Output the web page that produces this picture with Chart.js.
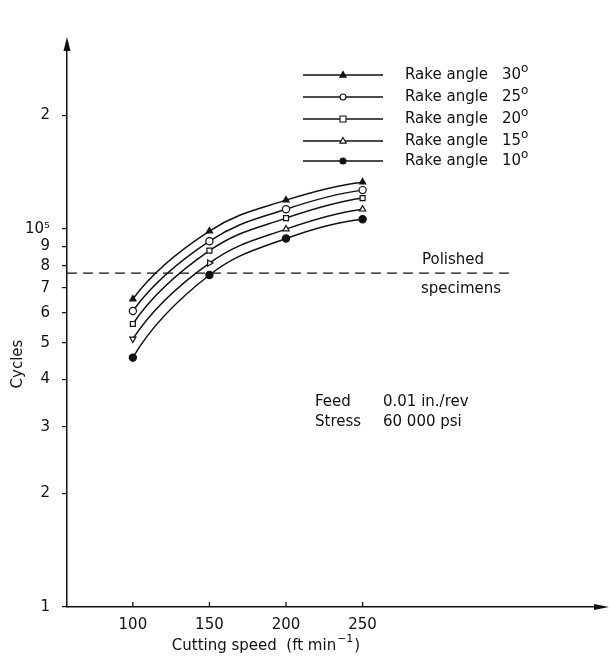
<!DOCTYPE html>
<html>
<head>
<meta charset="utf-8">
<script src="https://cdn.jsdelivr.net/npm/chart.js@4/dist/chart.umd.min.js"></script>
<style>
  html, body { margin: 0; padding: 0; background: #fff; }
</style>
</head>
<body>
<canvas id="chart" width="610" height="659"></canvas>
<script>
// cutting speed (ft/min) and fatigue life (cycles)
const speeds = [100, 150, 200, 250];
const rake30 = [65300, 98800, 119300, 133100];
const rake25 = [60700, 92900, 112900, 126800];
const rake20 = [56100, 87700, 106900, 120800];
const rake15 = [51200, 81300, 100000, 112900];
const rake10 = [45700, 75600, 94400, 106200];
const rakeNames = ['30', '25', '20', '15', '10'];

const polishedLevel = 76500;
const polishedSpan = [57, 346];

const xTicks = [100, 150, 200, 250];
const yTicks = [1e4, 2e4, 3e4, 4e4, 5e4, 6e4, 7e4, 8e4, 9e4, 1e5, 2e5];
const yTickLabels = ['1', '2', '3', '4', '5', '6', '7', '8', '9', '10\u2075', '2'];

const ink = '#111';
const FONT = "'DejaVu Sans', sans-serif";
Chart.defaults.font.family = FONT;
Chart.defaults.font.size = 15;
Chart.defaults.color = ink;

const styles = [
  { pointStyle: 'triangle', fill: ink, rot: [0, 0, 0, 0] },
  { pointStyle: 'circle', fill: '#fff', rot: [0, 0, 0, 0] },
  { pointStyle: 'rect', fill: '#fff', rot: [0, 0, 0, 0] },
  { pointStyle: 'triangle', fill: '#fff', rot: [180, 90, 0, 0] },
  { pointStyle: 'circle', fill: ink, rot: [0, 0, 0, 0] }
];
const series = [rake30, rake25, rake20, rake15, rake10];

const datasets = series.map((vals, i) => ({
  label: 'Rake angle ' + rakeNames[i] + '\u00b0',
  data: speeds.map((s, j) => ({ x: s, y: vals[j] })),
  borderColor: ink,
  borderWidth: 1.5,
  tension: 0.4,
  pointStyle: styles[i].pointStyle,
  pointRotation: styles[i].rot,
  pointRadius: styles[i].pointStyle === 'rect' ? 3.5 : 3.6,
  pointBackgroundColor: styles[i].fill,
  pointBorderColor: ink,
  pointBorderWidth: 1.2
}));

datasets.push({
  label: 'Polished specimens',
  data: polishedSpan.map(x => ({ x: x, y: polishedLevel })),
  borderColor: ink,
  borderWidth: 1.3,
  borderDash: [10, 6],
  pointRadius: 0
});

// end tangents: let the curve keep bending at its first and last point
// (parabolic end condition instead of Chart.js' flat one)
const smoothEnds = {
  id: 'smoothEnds',
  beforeDatasetDraw(chart, args) {
    const meta = args.meta;
    if (meta.type !== 'line' || !meta.dataset || meta.data.length < 3) return;
    meta.dataset.updateControlPoints(chart.chartArea, 'x');
    const pts = meta.data;
    const p0 = pts[0], p1 = pts[1];
    const t1x = 3 * (p1.x - p1.cp1x), t1y = 3 * (p1.y - p1.cp1y);
    p0.cp2x = p0.x + (2 * (p1.x - p0.x) - t1x) / 3;
    p0.cp2y = p0.y + (2 * (p1.y - p0.y) - t1y) / 3;
    const n = pts.length;
    const pn = pts[n - 1], pm = pts[n - 2];
    const tmx = 3 * (pm.cp2x - pm.x), tmy = 3 * (pm.cp2y - pm.y);
    pn.cp1x = pn.x - (2 * (pn.x - pm.x) - tmx) / 3;
    pn.cp1y = pn.y - (2 * (pn.y - pm.y) - tmy) / 3;
  }
};

// small marker drawer for the hand made legend
function marker(ctx, style, x, y, r) {
  ctx.beginPath();
  if (style === 'circle') {
    ctx.arc(x, y, r, 0, Math.PI * 2);
  } else if (style === 'rect') {
    ctx.rect(x - r, y - r, r * 2, r * 2);
  } else {
    ctx.moveTo(x, y - r * 1.2);
    ctx.lineTo(x + r * 1.05, y + r * 0.7);
    ctx.lineTo(x - r * 1.05, y + r * 0.7);
    ctx.closePath();
  }
  ctx.fill();
  ctx.stroke();
}

const decorations = {
  id: 'decorations',
  afterDraw(chart) {
    const ctx = chart.ctx;
    const area = chart.chartArea;
    const xs = chart.scales.x;
    ctx.save();
    ctx.strokeStyle = ink;
    ctx.fillStyle = ink;
    ctx.lineWidth = 1.3;

    // x ticks point up into the plot
    xTicks.forEach(v => {
      const px = xs.getPixelForValue(v);
      ctx.beginPath();
      ctx.moveTo(px, area.bottom);
      ctx.lineTo(px, area.bottom - 5);
      ctx.stroke();
    });

    // axis arrows
    ctx.beginPath();
    ctx.moveTo(area.left, area.top - 8);
    ctx.lineTo(area.left + 3.5, area.top + 6);
    ctx.lineTo(area.left - 3.5, area.top + 6);
    ctx.closePath();
    ctx.fill();
    ctx.beginPath();
    ctx.moveTo(area.right + 9, area.bottom);
    ctx.lineTo(area.right - 6, area.bottom - 3);
    ctx.lineTo(area.right - 6, area.bottom + 3);
    ctx.closePath();
    ctx.fill();

    // legend
    const rows = [75, 97, 119, 141, 161];
    ctx.textBaseline = 'middle';
    ctx.textAlign = 'left';
    rows.forEach((y, i) => {
      ctx.lineWidth = 1.3;
      ctx.strokeStyle = ink;
      ctx.beginPath();
      ctx.moveTo(303, y);
      ctx.lineTo(383, y);
      ctx.stroke();
      ctx.fillStyle = styles[i].fill;
      ctx.lineWidth = 1.1;
      marker(ctx, styles[i].pointStyle, 343, y, 3);
      ctx.fillStyle = ink;
      ctx.font = '15px ' + FONT;
      ctx.fillText('Rake angle', 405, y);
      ctx.fillText(rakeNames[i], 502, y);
      ctx.font = '12px ' + FONT;
      ctx.fillText('o', 521, y - 6);
    });

    // notes
    ctx.font = '15px ' + FONT;
    ctx.fillText('Polished', 422, 260);
    ctx.fillText('specimens', 421, 289);
    ctx.fillText('Feed', 315, 402);
    ctx.fillText('0.01 in./rev', 383, 402);
    ctx.fillText('Stress', 315, 422);
    ctx.fillText('60 000 psi', 383, 422);

    // x title with superscript
    const t1 = 'Cutting speed  (ft min', sup = '\u22121', t2 = ')';
    ctx.font = '15px ' + FONT;
    const w1 = ctx.measureText(t1).width;
    const w3 = ctx.measureText(t2).width;
    ctx.font = '11px ' + FONT;
    const w2 = ctx.measureText(sup).width;
    const x0 = 265 - (w1 + w2 + w3) / 2;
    const ty = 646;
    ctx.font = '15px ' + FONT;
    ctx.fillText(t1, x0, ty);
    ctx.font = '11px ' + FONT;
    ctx.fillText(sup, x0 + w1 + 1, ty - 7);
    ctx.font = '15px ' + FONT;
    ctx.fillText(t2, x0 + w1 + w2 + 2, ty);

    // y title
    ctx.translate(18, 364);
    ctx.rotate(-Math.PI / 2);
    ctx.textAlign = 'center';
    ctx.fillText('Cycles', 0, 0);
    ctx.restore();
  }
};

new Chart(document.getElementById('chart'), {
  type: 'line',
  data: { datasets: datasets },
  options: {
    responsive: false,
    animation: false,
    layout: { padding: { top: 45, right: 10, left: 0, bottom: 0 } },
    plugins: { legend: { display: false }, tooltip: { enabled: false } },
    scales: {
      x: {
        type: 'linear',
        min: 57,
        max: 405,
        afterBuildTicks: s => { s.ticks = xTicks.map(v => ({ value: v })); },
        afterFit: s => { s.height = 52; },
        grid: { display: false, drawTicks: false },
        border: { display: true, color: ink, width: 1.5 },
        ticks: { padding: 9, maxRotation: 0, autoSkip: false }
      },
      y: {
        type: 'logarithmic',
        min: 1e4,
        max: 3.07e5,
        afterBuildTicks: s => { s.ticks = yTicks.map(v => ({ value: v })); },
        afterFit: s => { s.width = 67; },
        grid: { drawOnChartArea: false, drawTicks: true, tickLength: 5, color: ink, lineWidth: 1.2 },
        border: { display: true, color: ink, width: 1.5 },
        ticks: {
          padding: 12,
          autoSkip: false,
          callback: (v, i) => yTickLabels[i]
        }
      }
    }
  },
  plugins: [smoothEnds, decorations]
});
</script>
</body>
</html>
